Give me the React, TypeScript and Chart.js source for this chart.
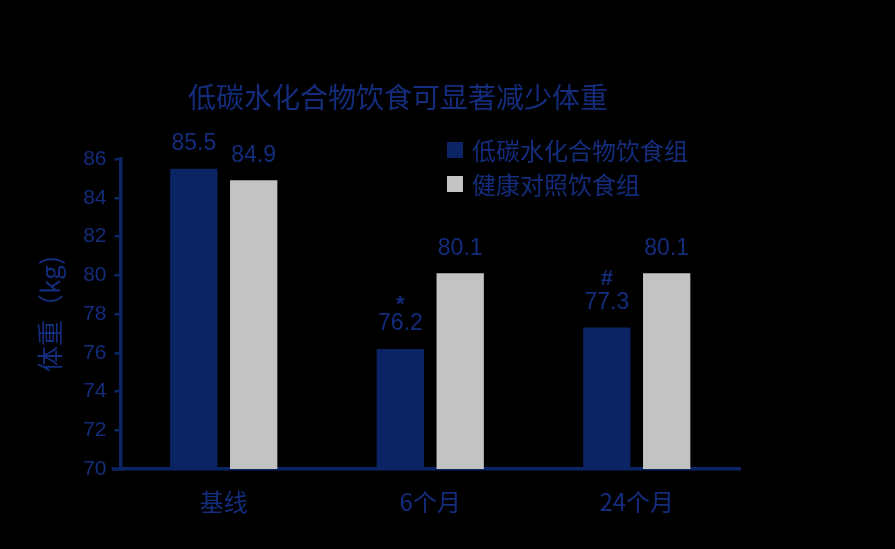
import React, { useEffect, useRef } from "react";
import { Chart, registerables } from "chart.js";

Chart.register(...registerables);

const categories = ["基线", "6个月", "24个月"];
const lowCarbValues = [85.5, 76.2, 77.3];
const healthyValues = [84.9, 80.1, 80.1];
const lowCarbMarks = ["", "*", "#"];
const seriesNames = ["低碳水化合物饮食组", "健康对照饮食组"];
const titleText = "低碳水化合物饮食可显著减少体重";
const yTitleText = "体重（kg)";
const yMin = 70;
const yMax = 86;
const yStep = 2;

const NAVY = "#0b2463";
const TEXT = "#142c7c";
const GRAY = "#c3c3c3";
const FONT = "'Liberation Sans', 'Noto Sans CJK SC', Arial, sans-serif";
const CJK = "'Noto Sans CJK SC', 'Liberation Sans', sans-serif";

const textPlugin = {
  id: "textPlugin",
  beforeDraw(chart: any) {
    const ctx = chart.ctx;
    ctx.save();
    ctx.fillStyle = "#000000";
    ctx.fillRect(0, 0, chart.width, chart.height);
    ctx.restore();
  },
  afterDraw(chart: any) {
    const ctx = chart.ctx;
    const area = chart.chartArea;
    ctx.save();
    // extend x axis line slightly left of the y axis, like the 70 tick
    ctx.strokeStyle = NAVY;
    ctx.lineWidth = 3.5;
    ctx.beginPath();
    ctx.moveTo(area.left - 9, area.bottom);
    ctx.lineTo(area.left, area.bottom);
    ctx.stroke();

    ctx.fillStyle = TEXT;
    // title
    ctx.font = `28px ${CJK}`;
    ctx.textAlign = "center";
    ctx.textBaseline = "middle";
    ctx.fillText(titleText, 398, 97);

    // legend
    const legendColors = [NAVY, GRAY];
    seriesNames.forEach((name, i) => {
      const y = 150 + i * 34;
      ctx.fillStyle = legendColors[i];
      ctx.fillRect(447, y - 8, 16, 16);
      ctx.fillStyle = TEXT;
      ctx.font = `24px ${CJK}`;
      ctx.textAlign = "left";
      ctx.textBaseline = "middle";
      ctx.fillText(name, 472, y + 1);
    });

    // y title
    ctx.save();
    ctx.translate(50, 314);
    ctx.rotate(-Math.PI / 2);
    ctx.font = `26px ${CJK}`;
    ctx.textAlign = "center";
    ctx.textBaseline = "middle";
    ctx.fillStyle = TEXT;
    ctx.fillText(yTitleText, 0, 0);
    ctx.restore();

    // data labels
    ctx.textAlign = "center";
    ctx.textBaseline = "middle";
    chart.data.datasets.forEach((ds: any, di: number) => {
      const meta = chart.getDatasetMeta(di);
      meta.data.forEach((el: any, i: number) => {
        const v = ds.data[i];
        ctx.fillStyle = TEXT;
        ctx.font = `23px ${FONT}`;
        ctx.fillText(v.toFixed(1), el.x, el.y - 25);
        if (di === 0 && lowCarbMarks[i]) {
          ctx.font = `bold 22px ${FONT}`;
          ctx.fillText(lowCarbMarks[i], el.x, el.y - (lowCarbMarks[i] === "*" ? 44 : 49));
        }
      });
    });
    ctx.restore();
  },
};

export default function App() {
  const ref = useRef<HTMLCanvasElement>(null);
  useEffect(() => {
    document.body.style.margin = "0";
    document.body.style.background = "#000";
    const chart = new Chart(ref.current as HTMLCanvasElement, {
      type: "bar",
      data: {
        labels: categories,
        datasets: [
          {
            label: seriesNames[0],
            data: lowCarbValues,
            backgroundColor: NAVY,
            categoryPercentage: 0.58,
            barPercentage: 0.79,
          },
          {
            label: seriesNames[1],
            data: healthyValues,
            backgroundColor: GRAY,
            categoryPercentage: 0.58,
            barPercentage: 0.79,
          },
        ],
      },
      options: {
        responsive: false,
        animation: false,
        devicePixelRatio: 1,
        layout: { padding: { top: 159, left: 0, right: 155, bottom: 0 } },
        plugins: {
          legend: { display: false },
          title: { display: false },
          tooltip: { enabled: false },
        },
        scales: {
          x: {
            afterFit(scale: any) {
              scale.height = 80;
            },
            grid: { display: false },
            border: { display: true, color: NAVY, width: 3.5 },
            ticks: {
              color: TEXT,
              font: { size: 24, family: CJK },
              padding: 10,
            },
          },
          y: {
            min: yMin,
            max: yMax,
            afterFit(scale: any) {
              scale.width = 120.5;
            },
            grid: {
              display: true,
              drawOnChartArea: false,
              drawTicks: true,
              tickLength: 6,
              color: NAVY,
              lineWidth: 2.5,
            },
            border: { display: true, color: NAVY, width: 3.5 },
            ticks: {
              stepSize: yStep,
              color: TEXT,
              font: { size: 21, family: FONT },
              padding: 8,
            },
          },
        },
      },
      plugins: [textPlugin],
    });
    return () => chart.destroy();
  }, []);
  return (
    <div style={{ width: 895, height: 549, background: "#000" }}>
      <canvas ref={ref} width={895} height={549} />
    </div>
  );
}
